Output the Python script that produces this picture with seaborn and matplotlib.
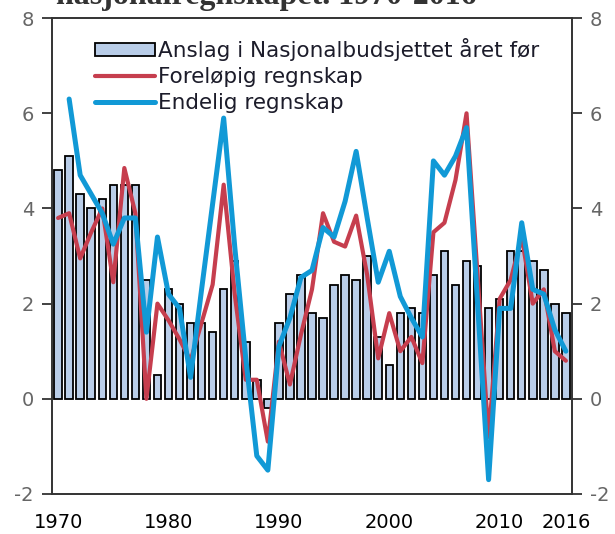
import matplotlib
matplotlib.use("Agg")
import matplotlib.pyplot as plt
import seaborn as sns
import pandas as pd
from matplotlib.patches import Patch
from matplotlib.lines import Line2D

# =========================
# DATA
# =========================

aar = list(range(1970, 2017))

anslag = [4.8, 5.1, 4.3, 4.0, 4.2, 4.5, 4.5, 4.5, 2.5, 0.5,
          2.3, 2.0, 1.6, 1.6, 1.4, 2.3, 2.9, 1.2, 0.4, -0.2,
          1.6, 2.2, 2.6, 1.8, 1.7, 2.4, 2.6, 2.5, 3.0, 1.3,
          0.7, 1.8, 1.9, 1.8, 2.6, 3.1, 2.4, 2.9, 2.8, 1.9,
          2.1, 3.1, 3.1, 2.9, 2.7, 2.0, 1.8]

forelopig_aar = list(range(1970, 2017))
forelopig = [3.8, 3.9, 2.95, 3.5, 4.0, 2.45, 4.85, 3.9, 0.0, 2.0,
             1.65, 1.25, 0.8, 1.6, 2.4, 4.5, 2.2, 0.4, 0.4, -0.9,
             1.2, 0.3, 1.35, 2.3, 3.9, 3.3, 3.2, 3.85, 2.6, 0.85,
             1.8, 1.0, 1.3, 0.75, 3.5, 3.7, 4.6, 6.0, 2.6, -0.8,
             2.1, 2.5, 3.4, 2.0, 2.3, 1.0, 0.8]

endelig_aar = list(range(1971, 2017))
endelig = [6.3, 4.7, 4.3, 3.9, 3.25, 3.8, 3.8, 1.4, 3.4,
           2.2, 1.9, 0.45, 2.3, 4.1, 5.9, 3.2, 0.85, -1.2, -1.5,
           1.1, 1.7, 2.55, 2.7, 3.6, 3.4, 4.15, 5.2, 3.8, 2.45,
           3.1, 2.15, 1.7, 1.3, 5.0, 4.7, 5.1, 5.7, 2.0, -1.7,
           1.9, 1.9, 3.7, 2.3, 2.2, 1.45, 1.0]

yticks = [-2, 0, 2, 4, 6, 8]
xticks = [1970, 1980, 1990, 2000, 2010, 2016]

navn_anslag = "Anslag i Nasjonalbudsjettet året før"
navn_forelopig = "Foreløpig regnskap"
navn_endelig = "Endelig regnskap"

# =========================
# FARGER / STIL
# =========================

farge_stolpe = "#B9CDE8"
farge_rod = "#C63E4E"
farge_bla = "#1199D6"
farge_tekst = "#1c1c2a"

sns.set_style("white")
plt.rcParams["font.family"] = ["DejaVu Sans"]

df_stolper = pd.DataFrame({"aar": aar, "verdi": anslag})
df_rod = pd.DataFrame({"aar": forelopig_aar, "verdi": forelopig})
df_bla = pd.DataFrame({"aar": endelig_aar, "verdi": endelig})

fig = plt.figure(figsize=(6.15, 5.34), dpi=100)
ax = fig.add_axes([0.0846, 0.075, 0.8454, 0.891])

sns.barplot(data=df_stolper, x="aar", y="verdi", native_scale=True,
            color=farge_stolpe, edgecolor="black", linewidth=1.3,
            width=0.68, saturation=1, ax=ax)
for p in ax.patches:
    p.set_facecolor(farge_stolpe)

sns.lineplot(data=df_rod, x="aar", y="verdi", color=farge_rod,
             linewidth=3.0, ax=ax)
sns.lineplot(data=df_bla, x="aar", y="verdi", color=farge_bla,
             linewidth=3.6, ax=ax)

ax.set_xlim(1969.45, 2016.55)
ax.set_ylim(-2, 8)
ax.set_xlabel("")
ax.set_ylabel("")

ax.set_yticks(yticks)
ax.set_yticklabels([str(v) for v in yticks])
ax.set_xticks(xticks)
ax.set_xticklabels([str(v) for v in xticks])

ax.tick_params(axis="y", which="both", direction="out", length=7,
               width=1.3, color="#333333", left=True, right=True,
               labelleft=True, labelright=True, labelsize=14,
               labelcolor="#666666", pad=6)
ax.tick_params(axis="x", length=0, labelsize=14, labelcolor="black", pad=14)

for side in ["left", "right", "top", "bottom"]:
    ax.spines[side].set_visible(True)
    ax.spines[side].set_color("#333333")
    ax.spines[side].set_linewidth(1.4)

# Legenden
handles = [
    Patch(facecolor=farge_stolpe, edgecolor="black", linewidth=1.3),
    Line2D([0], [0], color=farge_rod, linewidth=3.0),
    Line2D([0], [0], color=farge_bla, linewidth=3.6),
]
leg = ax.legend(handles, [navn_anslag, navn_forelopig, navn_endelig],
                loc="upper left", bbox_to_anchor=(0.053, 0.99),
                frameon=False, fontsize=15.5, handlelength=2.8,
                handletextpad=0.15, labelspacing=0.28, borderpad=0.2,
                handleheight=0.55)
for t in leg.get_texts():
    t.set_color(farge_tekst)

# Tittel (kuttet i toppen, som i originalen)
fig.text(0.091, 0.9925, "nasjonalregnskapet. 1970-2016",
         family="Liberation Serif", fontsize=23, weight="bold",
         color="#333333", va="baseline", ha="left")

fig.savefig("out.png", dpi=100)
